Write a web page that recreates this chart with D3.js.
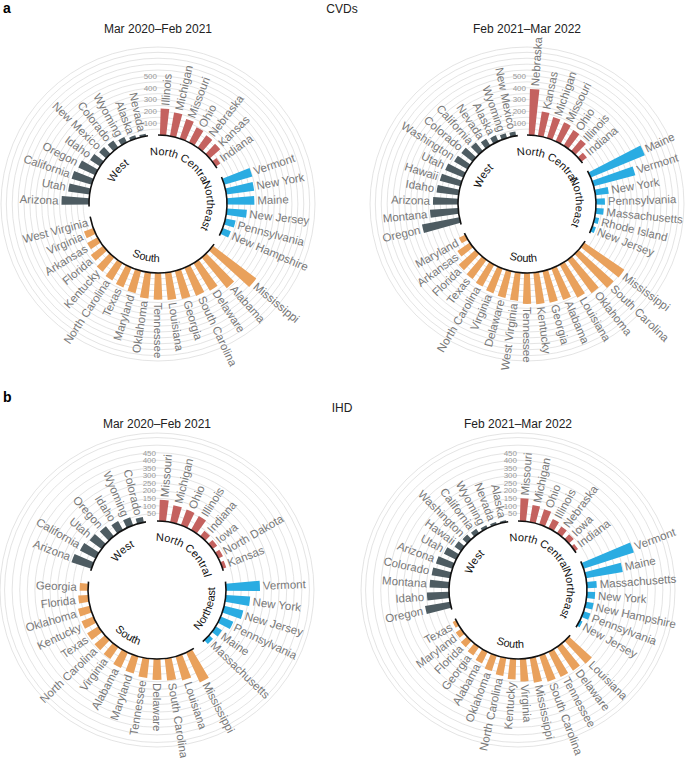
<!DOCTYPE html>
<html><head><meta charset="utf-8">
<script src="https://cdn.jsdelivr.net/npm/d3@7"></script>
<style>
body{margin:0;background:#fff}
svg{display:block}
text{font-family:"Liberation Sans",Arial,sans-serif}
</style>
</head><body>
<script>
// ---------- DATA ----------
const regionNames = ["North Central", "Northeast", "South", "West"];
const regionColors = ["#c4625f", "#2aace2", "#e9a15c", "#4e5c62"];

// CVDs, Mar 2020–Feb 2021
const cvdA_ncStates = ["Illinois","Michigan","Missouri","Ohio","Nebraska","Kansas","Indiana"];
const cvdA_ncValues = [225,203,175,143,127,118,45];
const cvdA_neStates = ["Vermont","New York","Maine","New Jersey","Pennsylvania","New Hampshire"];
const cvdA_neValues = [248,238,232,170,88,74];
const cvdA_sStates = ["Mississippi","Alabama","Delaware","South Carolina","Georgia","Louisiana","Tennessee","Oklahoma","Maryland","Texas","North Carolina","Kentucky","Florida","Arkansas","Virginia","West Virginia"];
const cvdA_sValues = [460,336,272,258,245,232,226,220,195,182,170,156,130,100,85,3];
const cvdA_wStates = ["Arizona","Utah","California","Oregon","Idaho","New Mexico","Colorado","Wyoming","Alaska","Nevada"];
const cvdA_wValues = [233,184,178,158,101,80,74,51,28,20];

// CVDs, Feb 2021–Mar 2022
const cvdB_ncStates = ["Nebraska","Kansas","Michigan","Missouri","Ohio","Illinois","Indiana"];
const cvdB_ncValues = [390,209,185,175,155,127,58];
const cvdB_neStates = ["Maine","Vermont","New York","Pennsylvania","Massachusetts","Rhode Island","New Jersey"];
const cvdB_neValues = [496,365,114,76,67,38,32];
const cvdB_sStates = ["Mississippi","South Carolina","Oklahoma","Louisiana","Alabama","Georgia","Kentucky","Tennessee","West Virginia","Delaware","Virginia","North Carolina","Texas","Florida","Arkansas","Maryland"];
const cvdB_sValues = [410,398,348,316,285,274,268,262,240,232,225,210,200,190,127,60];
const cvdB_wStates = ["Oregon","Montana","Arizona","Idaho","Hawaii","Utah","Washington","Colorado","California","Nevada","Alaska","Wyoming","New Mexico"];
const cvdB_wValues = [322,239,212,188,180,166,130,120,93,68,54,42,38];

// IHD, Mar 2020–Feb 2021
const ihdA_ncStates = ["Missouri","Michigan","Ohio","Illinois","Indiana","Iowa","North Dakota","Kansas"];
const ihdA_ncValues = [140,114,110,106,45,38,34,25];
const ihdA_neStates = ["Vermont","New York","New Jersey","Pennsylvania","Maine","Massachusetts"];
const ihdA_neValues = [224,161,130,90,49,34];
const ihdA_sStates = ["Mississippi","Louisiana","South Carolina","Delaware","Tennessee","Maryland","Alabama","Virginia","North Carolina","Texas","Kentucky","Oklahoma","Florida","Georgia"];
const ihdA_sValues = [217,165,146,138,129,116,112,95,91,87,84,80,66,55];
const ihdA_wStates = ["Arizona","California","Utah","Oregon","Idaho","Wyoming","Colorado"];
const ihdA_wValues = [138,116,97,84,67,56,35];

// IHD, Feb 2021–Mar 2022
const ihdB_ncStates = ["Missouri","Michigan","Ohio","Illinois","Nebraska","Iowa","Indiana"];
const ihdB_ncValues = [150,114,105,67,52,44,24];
const ihdB_neStates = ["Vermont","Maine","Massachusetts","New York","New Hampshire","Pennsylvania","New Jersey"];
const ihdB_neValues = [348,246,65,54,51,47,19];
const ihdB_sStates = ["Louisiana","Delaware","Tennessee","South Carolina","Mississippi","Virginia","Kentucky","North Carolina","Oklahoma","Alabama","Georgia","Florida","Maryland","Texas"];
const ihdB_sValues = [205,189,184,181,165,149,135,120,107,85,68,56,42,25];
const ihdB_wStates = ["Oregon","Idaho","Montana","Colorado","Arizona","Utah","Hawaii","Washington","California","Wyoming","Nevada","Alaska"];
const ihdB_wValues = [167,146,128,123,114,89,51,41,34,20,16,11];

const cvdTicks = [100,200,300,400,500];
const ihdTicks = [50,100,150,200,250,300,350,400,450];
const cvdMax = 745, ihdMax = 580;

// ---------- DRAW ----------
const W = 685, H = 758;
const svg = d3.select("body").append("svg").attr("width", W).attr("height", H);
const innerR = 69, outerR = 157;

let pid = 0;
function drawPanel(cfg) {
  pid++;
  const g = svg.append("g").attr("transform", `translate(${cfg.cx},${cfg.cy})`);
  const items = [], keys = [], groupKeys = [];
  cfg.groups.forEach((grp, gi) => {
    const gk = [];
    grp[0].forEach((n, i) => {
      const k = gi + ":" + n;
      keys.push(k); gk.push(k);
      items.push({key: k, name: n, v: grp[1][i], gi});
    });
    groupKeys.push(gk);
    keys.push("gap" + gi);
  });
  const pad = 0.38;
  const x = d3.scaleBand().domain(keys).range([0, 2 * Math.PI]).paddingInner(pad).paddingOuter(pad / 2);
  const y = d3.scaleLinear().domain([0, cfg.max]).range([innerR, outerR]);
  const bw = x.bandwidth(), step = x.step();

  // grid
  const gridVals = d3.range(50, cfg.max, 50).concat([cfg.max]);
  g.selectAll("circle.grid").data(gridVals).join("circle")
    .attr("r", d => y(d)).attr("fill", "none").attr("stroke", "#d8d8d8").attr("stroke-width", 0.7);

  // tick labels
  g.selectAll("text.tick").data(cfg.ticks).join("text")
    .attr("x", -1).attr("y", d => -y(d)).attr("dy", "0.35em")
    .attr("text-anchor", "end").attr("font-size", 8).attr("fill", "#9a9a9a")
    .text(d => d);

  // bars
  const arc = d3.arc().innerRadius(innerR).outerRadius(d => y(d.v))
    .startAngle(d => x(d.key)).endAngle(d => x(d.key) + bw);
  g.selectAll("path.bar").data(items).join("path")
    .attr("d", arc).attr("fill", d => regionColors[d.gi]);

  // region arcs and labels
  groupKeys.forEach((gk, gi) => {
    const a0 = x(gk[0]) - step * pad / 2;
    const a1 = x(gk[gk.length - 1]) + bw + step * pad / 2;
    const p = d3.path();
    p.arc(0, 0, innerR, a0 - Math.PI / 2, a1 - Math.PI / 2);
    g.append("path").attr("d", p.toString()).attr("fill", "none").attr("stroke", "#111").attr("stroke-width", 1.6);

    const mid = (a0 + a1) / 2, midDeg = mid * 180 / Math.PI;
    const flip = midDeg > 100 && midDeg < 260;
    const span = 80 * Math.PI / 180;
    const P = (a, r) => `${(r * Math.sin(a)).toFixed(2)},${(-r * Math.cos(a)).toFixed(2)}`;
    let d;
    if (!flip) {
      const r = 49;
      d = `M${P(mid - span, r)} A${r},${r} 0 0,1 ${P(mid + span, r)}`;
    } else {
      const r = 58;
      d = `M${P(mid + span, r)} A${r},${r} 0 0,0 ${P(mid - span, r)}`;
    }
    const id = `rp${pid}_${gi}`;
    g.append("path").attr("id", id).attr("d", d).attr("fill", "none");
    g.append("text").attr("font-size", 11).attr("fill", "#111")
      .append("textPath").attr("href", "#" + id).attr("startOffset", "50%").attr("text-anchor", "middle")
      .text(regionNames[gi]);
  });

  // state labels
  g.selectAll("text.lab").data(items).join("text")
    .attr("font-size", 11.5).attr("fill", "#787878")
    .attr("dy", "0.35em")
    .attr("transform", d => {
      const deg = (x(d.key) + bw / 2) * 180 / Math.PI;
      const right = deg < 180.5;
      return `rotate(${deg - 90}) translate(${y(d.v) + 3},0)` + (right ? "" : " rotate(180)");
    })
    .attr("text-anchor", d => ((x(d.key) + bw / 2) * 180 / Math.PI) < 180.5 ? "start" : "end")
    .text(d => d.name);

  // subtitle
  svg.append("text").attr("x", cfg.cx).attr("y", cfg.ty).attr("text-anchor", "middle")
    .attr("font-size", 12).attr("fill", "#222").text(cfg.title);
}

// headers
svg.append("text").attr("x", 3).attr("y", 13).attr("font-size", 14).attr("font-weight", "bold").text("a");
svg.append("text").attr("x", 342).attr("y", 13).attr("text-anchor", "middle").attr("font-size", 12).attr("fill", "#222").text("CVDs");
svg.append("text").attr("x", 3).attr("y", 402).attr("font-size", 14).attr("font-weight", "bold").text("b");
svg.append("text").attr("x", 342).attr("y", 412).attr("text-anchor", "middle").attr("font-size", 12).attr("fill", "#222").text("IHD");

drawPanel({cx: 158, cy: 204, ty: 33, title: "Mar 2020–Feb 2021", max: cvdMax, ticks: cvdTicks,
  groups: [[cvdA_ncStates, cvdA_ncValues], [cvdA_neStates, cvdA_neValues], [cvdA_sStates, cvdA_sValues], [cvdA_wStates, cvdA_wValues]]});
drawPanel({cx: 527, cy: 204, ty: 33, title: "Feb 2021–Mar 2022", max: cvdMax, ticks: cvdTicks,
  groups: [[cvdB_ncStates, cvdB_ncValues], [cvdB_neStates, cvdB_neValues], [cvdB_sStates, cvdB_sValues], [cvdB_wStates, cvdB_wValues]]});
drawPanel({cx: 157, cy: 590, ty: 428, title: "Mar 2020–Feb 2021", max: ihdMax, ticks: ihdTicks,
  groups: [[ihdA_ncStates, ihdA_ncValues], [ihdA_neStates, ihdA_neValues], [ihdA_sStates, ihdA_sValues], [ihdA_wStates, ihdA_wValues]]});
drawPanel({cx: 518, cy: 590, ty: 428, title: "Feb 2021–Mar 2022", max: ihdMax, ticks: ihdTicks,
  groups: [[ihdB_ncStates, ihdB_ncValues], [ihdB_neStates, ihdB_neValues], [ihdB_sStates, ihdB_sValues], [ihdB_wStates, ihdB_wValues]]});
</script>
</body></html>
